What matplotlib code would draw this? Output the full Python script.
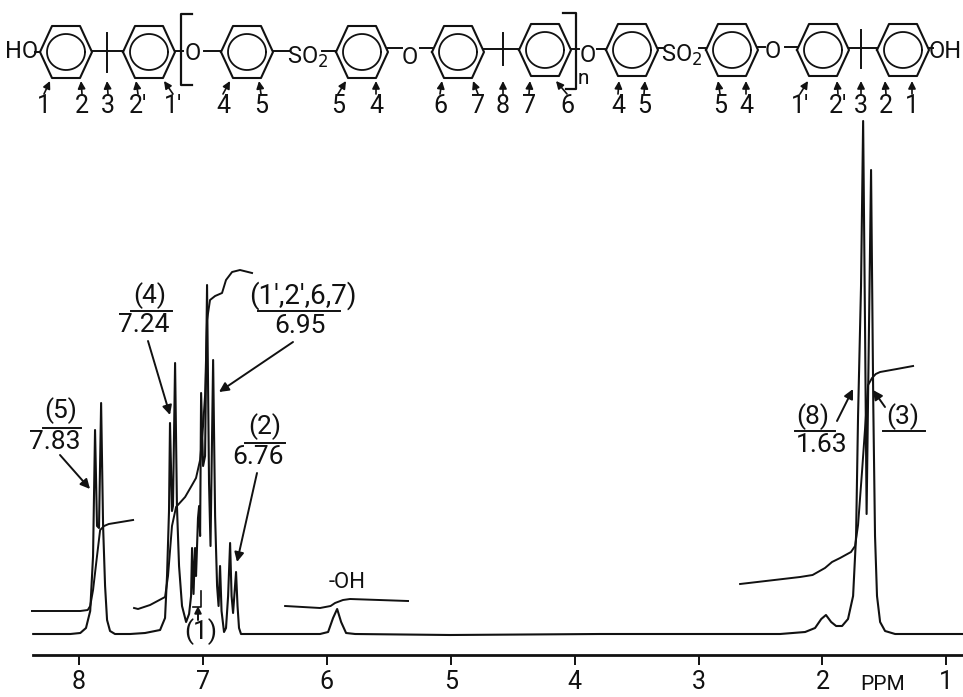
import numpy as np
import matplotlib
matplotlib.use("Agg")
import matplotlib.pyplot as plt

plt.rcParams['font.family'] = ['Roboto', 'DejaVu Sans']

# spectrum trace
spec_ppm = [8.37, 8.07, 7.99, 7.944, 7.91, 7.887, 7.871, 7.855, 7.839, 7.822, 7.806, 7.79, 7.774, 7.75, 7.71,
            7.588, 7.467, 7.346, 7.306, 7.29, 7.274, 7.266, 7.25, 7.242, 7.225, 7.21, 7.193, 7.169, 7.136,
            7.112, 7.096, 7.088, 7.076, 7.064, 7.056, 7.04, 7.031, 7.023, 7.015, 6.999, 6.983, 6.967, 6.951,
            6.939, 6.918, 6.902, 6.886, 6.874, 6.862, 6.85, 6.83, 6.814, 6.797, 6.781, 6.769, 6.757, 6.733,
            6.721, 6.709, 6.693, 6.54, 6.216, 6.055, 5.99, 5.95, 5.917, 5.885, 5.845, 5.772, 5.006, 3.795,
            2.988, 2.342, 2.14, 2.06, 2.01, 1.972, 1.93, 1.89, 1.842, 1.794, 1.753, 1.729, 1.713, 1.689,
            1.672, 1.656, 1.644, 1.632, 1.608, 1.59, 1.576, 1.56, 1.535, 1.495, 1.414, 0.865]
spec_int = [2, 2, 3, 8, 25, 80, 206, 110, 108, 233, 110, 50, 16, 5, 2,
            2, 3, 6, 18, 60, 125, 213, 125, 130, 273, 130, 70, 30, 14,
            22, 40, 88, 42, 88, 60, 118, 130, 100, 243, 170, 180, 351, 153,
            90, 276, 120, 50, 30, 70, 25, 4, 8, 40, 93, 40, 23, 64,
            30, 8, 2, 2, 2, 2, 4, 18, 27, 14, 3, 2, 1, 2,
            2, 2, 4, 8, 17, 21, 14, 10, 10, 17, 40, 100, 220, 350,
            515, 300, 122, 240, 466, 230, 100, 40, 14, 5, 2, 2]

# integral curves
int1_ppm = [8.38, 7.99, 7.93, 7.91, 7.887, 7.855, 7.83, 7.798, 7.76, 7.564]
int1_val = [25, 25, 26, 30, 46, 80, 106, 110, 112, 116]
int2_ppm = [7.556, 7.524, 7.427, 7.306, 7.282, 7.25, 7.217, 7.144, 7.088, 7.056, 7.023, 6.999, 6.983, 6.967,
            6.943, 6.902, 6.846, 6.814, 6.765, 6.701, 6.604]
int2_val = [28, 27, 31, 39, 60, 110, 129, 139, 151, 158, 176, 210, 241, 316,
            336, 340, 343, 356, 364, 366, 363]
int3_ppm = [6.337, 6.055, 5.97, 5.934, 5.87, 5.813, 5.345]
int3_val = [30, 28, 30, 33, 36, 37, 35]
int4_ppm = [2.665, 2.181, 2.08, 1.98, 1.923, 1.858, 1.77, 1.737, 1.713, 1.68, 1.632, 1.6, 1.57, 1.535, 1.4, 1.269]
int4_val = [52, 59, 61, 68, 74, 78, 84, 90, 111, 166, 251, 258, 262, 264, 267, 270]

ppm_ticks = [8, 7, 6, 5, 4, 3, 2, 1]

# structure at the top
ring_x = [66, 149, 247, 362, 458, 545, 632, 732, 823, 903]
atom_labels = ["HO", "O", "SO$_2$", "O", "O", "SO$_2$", "O", "OH"]
atom_x = [22, 193, 308, 410, 588, 682, 773, 945]
atom_y = [52, 54, 57, 58, 55, 55, 51, 52]
site_labels = ["1", "2", "3", "2'", "1'", "4", "5", "5", "4", "6", "7", "8", "7", "6",
               "4", "5", "5", "4", "1'", "2'", "3", "2", "1"]
site_x = [44, 82, 108, 138, 173, 223, 261, 338, 376, 440, 478, 503, 529, 567,
          618, 644, 720, 746, 800, 838, 861, 886, 912]
site_tip = [50, 81, 107, 136, 164, 230, 259, 346, 376, 442, 473, 503, 530, 556,
            619, 645, 718, 746, 808, 837, 861, 885, 912]

fig = plt.figure(figsize=(9.63, 6.97), dpi=100)
ax = fig.add_axes([0, 0, 1, 1])
ax.set_xlim(8.638, 0.866)
ax.set_ylim(-61, 636)

ink = "#111111"
ax.plot(spec_ppm, spec_int, color=ink, lw=1.5)
for xs, ys in [(int1_ppm, int1_val), (int2_ppm, int2_val), (int3_ppm, int3_val), (int4_ppm, int4_val)]:
    ax.plot(xs, ys, color=ink, lw=1.4)

for s in ['top', 'left', 'right']:
    ax.spines[s].set_visible(False)
ax.spines['bottom'].set_position(('data', -19))
ax.spines['bottom'].set_bounds(8.37, 0.866)
ax.spines['bottom'].set_linewidth(2)
ax.spines['bottom'].set_color(ink)
ax.set_yticks([])
ax.set_xticks(ppm_ticks)
ax.set_xticklabels([str(t) for t in ppm_ticks], fontsize=18, color=ink)
ax.tick_params(axis='x', length=7, width=1.4, color=ink, pad=4)
ax.patch.set_alpha(0)

# pixel overlay for the drawn formula and the labels
ov = fig.add_axes([0, 0, 1, 1])
ov.set_xlim(0, 963)
ov.set_ylim(697, 0)
ov.axis('off')
ov.patch.set_alpha(0)


def ring(cx, cy=52):
    hx = [cx - 26, cx - 14, cx + 14, cx + 26, cx + 14, cx - 14, cx - 26]
    hy = [cy, cy - 26, cy - 26, cy, cy + 26, cy + 26, cy]
    ov.plot(hx, hy, color=ink, lw=1.5)
    t = np.linspace(0, 2 * np.pi, 60)
    ov.plot(cx + 19 * np.cos(t), cy + 18 * np.sin(t), color=ink, lw=1.3)


def seg(x0, y0, x1, y1, lw=1.4):
    ov.plot([x0, x1], [y0, y1], color=ink, lw=lw)


def txt(x, y, s, size=19):
    ov.text(x, y, s, fontsize=size, color=ink, ha='center', va='center')


def arrow(x0, y0, x1, y1, lw=1.4, ms=14):
    ov.annotate("", xy=(x1, y1), xytext=(x0, y0),
                arrowprops=dict(arrowstyle="-|>", color=ink, lw=lw, mutation_scale=ms, shrinkA=0, shrinkB=0))


for x in ring_x:
    ring(x, 50 if x > 500 else 52)

for x, y, s in zip(atom_x, atom_y, atom_labels):
    txt(x, y, s, 17)

# bonds between rings and atoms
seg(35, 52, 40, 52)
seg(92, 51, 123, 51)
seg(107, 33, 107, 72)
seg(175, 51, 183, 51)
seg(204, 51, 221, 51)
seg(273, 51, 290, 51)
seg(322, 51, 336, 51)
seg(388, 48, 402, 48)
seg(420, 48, 432, 48)
seg(484, 49, 519, 49)
seg(503, 33, 503, 65)
seg(571, 49, 579, 49)
seg(597, 49, 606, 49)
seg(658, 48, 664, 48)
seg(699, 48, 706, 48)
seg(758, 47, 765, 47)
seg(785, 47, 797, 47)
seg(849, 48, 877, 48)
seg(861, 30, 861, 68)
seg(929, 48, 933, 48)

# repeat unit brackets
ov.plot([192, 181, 181, 192], [14, 14, 85, 85], color=ink, lw=1.6)
ov.plot([563, 576, 576, 566], [13, 13, 89, 89], color=ink, lw=1.6)
txt(583, 78, "n", 15)

for x, tip, s in zip(site_x, site_tip, site_labels):
    txt(x, 106, s, 18)
    arrow(x if abs(x - tip) < 4 else (x + tip) / 2 - (tip - x) / 2, 94, tip, 81, lw=1.2, ms=11)

# peak labels
txt(61, 411, "(5)")
seg(43, 428, 81, 428)
txt(55, 442, "7.83")
arrow(60, 455, 90, 489)

txt(150, 296, "(4)")
seg(131, 311, 172, 311)
txt(144, 325, "7.24")
arrow(148, 341, 170, 415)

txt(303, 296, "(1',2',6,7)", 20)
seg(258, 311, 340, 311)
txt(300, 326, "6.95")
arrow(293, 342, 219, 392)

txt(265, 427, "(2)")
seg(245, 443, 285, 443)
txt(258, 457, "6.76")
arrow(257, 473, 237, 562)

txt(201, 632, "(1)")
arrow(198, 620, 198, 606, ms=10)
ov.plot([193, 201, 201], [607, 607, 591], color=ink, lw=1.2)

txt(347, 583, "-OH", 16)

txt(813, 417, "(8)")
seg(795, 431, 835, 431)
txt(822, 445, "1.63")
arrow(837, 421, 853, 389)

txt(903, 417, "(3)")
seg(883, 431, 925, 431)
arrow(885, 407, 873, 390)

txt(883, 685, "PPM", 15)

fig.savefig("out.png", dpi=100)
